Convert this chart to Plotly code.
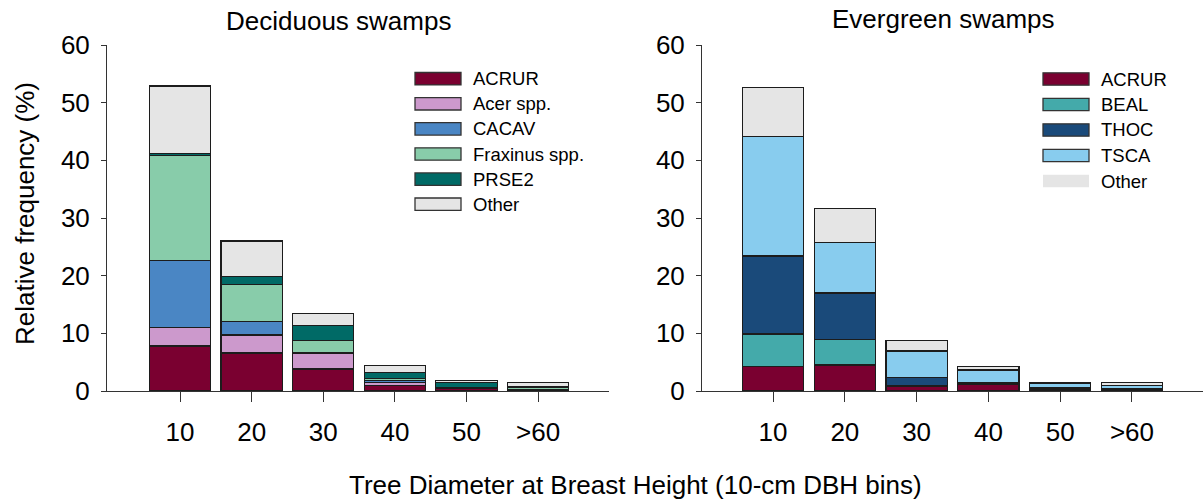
import plotly.graph_objects as go

# DBH classes (10-cm bins)
bins = ["10", "20", "30", "40", "50", ">60"]

# Deciduous swamps: relative frequency (%) by species group
dec_species = ["ACRUR", "Acer spp.", "CACAV", "Fraxinus spp.", "PRSE2", "Other"]
dec_acrur = [7.8, 6.6, 3.8, 0.9, 0.4, 0.15]
dec_acer = [3.2, 3.1, 2.7, 0.6, 0.05, 0.05]
dec_cacav = [11.7, 2.4, 0.2, 0.3, 0.1, 0.05]
dec_fraxinus = [18.1, 6.4, 2.1, 0.4, 0.1, 0.35]
dec_prse2 = [0.4, 1.4, 2.5, 1.0, 0.8, 0.15]
dec_other = [11.7, 6.1, 2.2, 1.2, 0.35, 0.75]
dec_colors = ["#7a0030", "#cc99cc", "#4a86c4", "#88ccaa", "#006a66", "#e5e5e5"]

# Evergreen swamps: relative frequency (%) by species group
eve_species = ["ACRUR", "BEAL", "THOC", "TSCA", "Other"]
eve_acrur = [4.3, 4.5, 0.75, 1.15, 0.3, 0.35]
eve_beal = [5.6, 4.45, 0.25, 0.05, 0.1, 0.05]
eve_thoc = [13.5, 8.05, 1.3, 0.25, 0.2, 0.1]
eve_tsca = [20.8, 8.8, 4.65, 2.2, 0.7, 0.45]
eve_other = [8.4, 5.9, 1.75, 0.6, 0.15, 0.5]
eve_colors = ["#7a0030", "#44aaaa", "#1a4a7a", "#88ccee", "#e5e5e5"]

y_ticks = [0, 10, 20, 30, 40, 50, 60]

dec_values = [dec_acrur, dec_acer, dec_cacav, dec_fraxinus, dec_prse2, dec_other]
eve_values = [eve_acrur, eve_beal, eve_thoc, eve_tsca, eve_other]

W, H = 1204, 503
FONT = "Liberation Sans, Arial, sans-serif"
EDGE = "#1c1c1c"


def fx(x):
    return x / W


def fy(y):
    return 1 - y / H


fig = go.Figure()

for name, vals, color in zip(dec_species, dec_values, dec_colors):
    fig.add_trace(go.Bar(
        x=bins, y=vals, name=name, xaxis="x", yaxis="y",
        marker=dict(color=color, line=dict(color=EDGE, width=1.2)),
        width=0.855, showlegend=False,
    ))

for name, vals, color in zip(eve_species, eve_values, eve_colors):
    fig.add_trace(go.Bar(
        x=bins, y=vals, name=name, xaxis="x2", yaxis="y2",
        marker=dict(color=color, line=dict(color=EDGE, width=1.2)),
        width=0.855, showlegend=False,
    ))

xcommon = dict(
    type="category", showline=True, linecolor="#333", linewidth=1,
    ticks="outside", ticklen=10, tickcolor="#333", tickwidth=1,
    tickfont=dict(size=26, color="black", family=FONT),
    showgrid=False, zeroline=False, ticklabelstandoff=8, automargin=False,
)
ycommon = dict(
    range=[0, 60], tickvals=y_ticks, showline=True, linecolor="#333",
    linewidth=1, ticks="outside", ticklen=5, tickcolor="#333", tickwidth=1,
    tickfont=dict(size=26, color="black", family=FONT), ticklabelstandoff=6,
    showgrid=False, zeroline=False, domain=[fy(391), fy(45)], automargin=False,
)

fig.update_layout(
    width=W, height=H, margin=dict(l=0, r=0, t=0, b=0, pad=0),
    paper_bgcolor="white", plot_bgcolor="white",
    barmode="stack", showlegend=False,
    font=dict(family=FONT, color="black"),
    xaxis=dict(xcommon, domain=[fx(107), fx(609)], range=[-1.02, 5.99], anchor="y"),
    yaxis=dict(ycommon, anchor="x"),
    xaxis2=dict(xcommon, domain=[fx(702), fx(1203)], range=[-0.99, 5.99], anchor="y2"),
    yaxis2=dict(ycommon, anchor="x2"),
)

annotations = [
    dict(text="Deciduous swamps", x=fx(338), y=fy(21)),
    dict(text="Evergreen swamps", x=fx(943), y=fy(19)),
    dict(text="Tree Diameter at Breast Height (10-cm DBH bins)", x=fx(635), y=fy(485)),
    dict(text="Relative frequency (%)", x=fx(25), y=fy(214), textangle=-90),
]
for a in annotations:
    fig.add_annotation(xref="paper", yref="paper", showarrow=False,
                       xanchor="center", yanchor="middle",
                       font=dict(size=26, color="black", family=FONT), **a)

# Legends: wide rectangular swatches with labels
shapes = []


def add_legend(names, colors, x0, x1, y_first, step, text_x, outline_last=True):
    for i, (name, color) in enumerate(zip(names, colors)):
        yc = y_first + step * i
        has_edge = outline_last or i < len(names) - 1
        shapes.append(dict(
            type="rect", xref="paper", yref="paper",
            x0=fx(x0), x1=fx(x1), y0=fy(yc + 6.2), y1=fy(yc - 6.2),
            fillcolor=color,
            line=dict(color="#333" if has_edge else color, width=1.3 if has_edge else 0),
        ))
        fig.add_annotation(xref="paper", yref="paper", showarrow=False,
                           x=fx(text_x), y=fy(yc), xanchor="left", yanchor="middle",
                           text=name, font=dict(size=18.5, color="black", family=FONT))


add_legend(dec_species, dec_colors, 415, 461, 78.7, 25.1, 471)
add_legend(eve_species, eve_colors, 1043, 1089, 79, 25.5, 1099, outline_last=False)

fig.update_layout(shapes=shapes)

fig.write_html("out.html")
